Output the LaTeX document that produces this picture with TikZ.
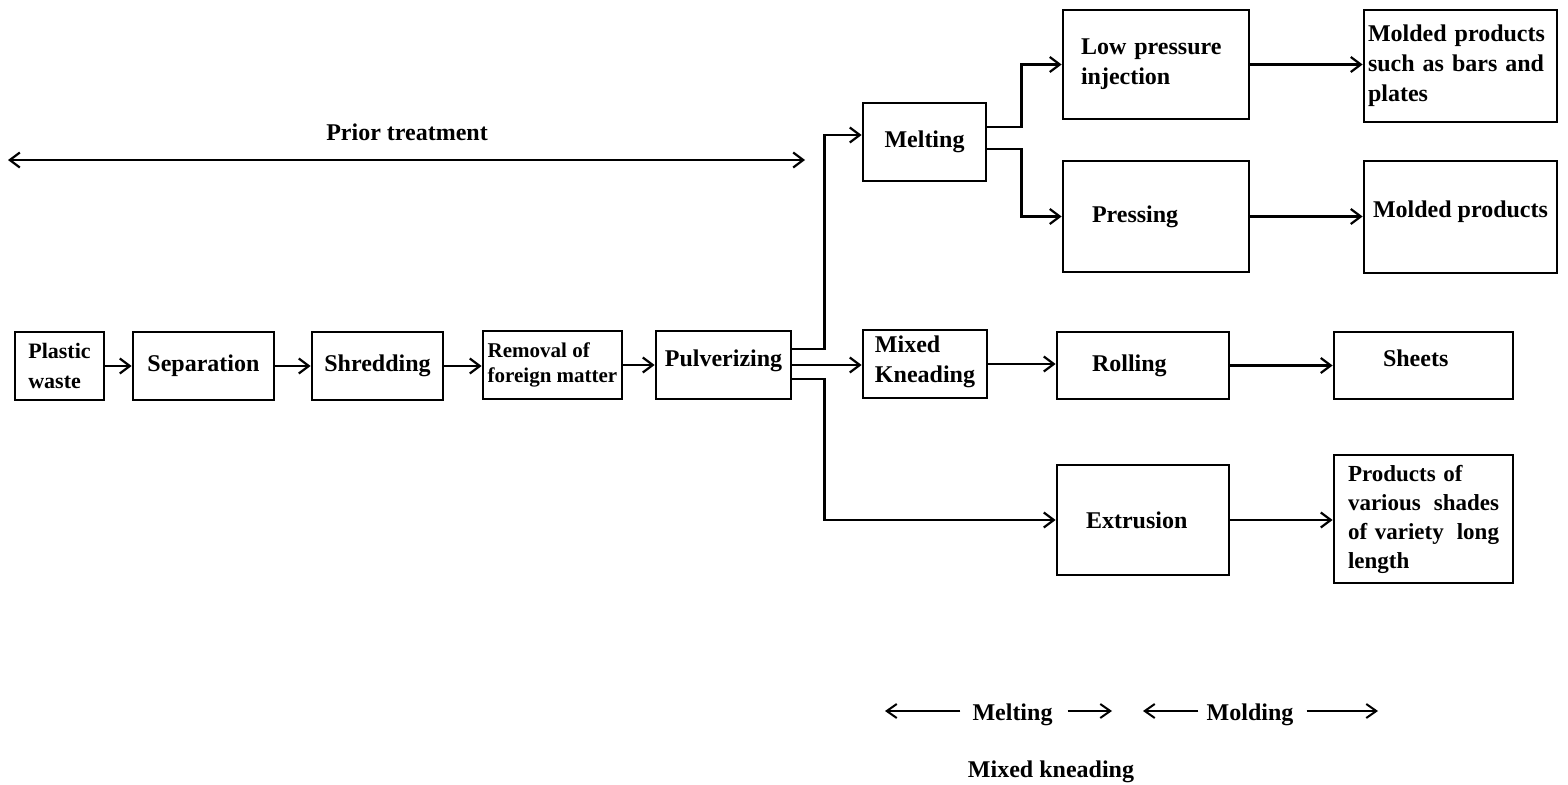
\documentclass[tikz,border=0pt]{standalone}
\usepackage{fontspec}
\setmainfont{Liberation Serif}
\usetikzlibrary{arrows.meta}
\begin{document}
\begin{tikzpicture}[x=1pt,y=-1pt,
  box/.style={draw, line width=2.8pt, inner ysep=0pt, inner xsep=0pt, align=left,
    font=\bfseries\fontsize{24}{30}\selectfont},
  lbl/.style={inner sep=0pt, font=\bfseries\fontsize{24}{30}\selectfont},
  conn/.style={line width=2.8pt, -{Straight Barb[length=10pt,width=15pt,line width=2.2pt]}},
  dbl/.style={line width=2.8pt, {Straight Barb[length=10pt,width=15pt,line width=2.2pt]}-{Straight Barb[length=10pt,width=15pt,line width=2.2pt]}},
  span/.style={line width=2pt, -{Straight Barb[length=10pt,width=14pt,line width=2pt]}}]
\useasboundingbox (0,0) rectangle (1568,784);

% main chain
\node[box, minimum width=89pt, minimum height=68pt, font=\bfseries\fontsize{22}{30}\selectfont] (pw) at (59.5,366) {Plastic\\waste};
\node[box, minimum width=141pt, minimum height=68pt] (sep) at (203.5,366) {Separation};
\node[box, minimum width=131pt, minimum height=68pt] (shr) at (377.5,366) {Shredding};
\node[box, minimum width=139pt, minimum height=68pt, font=\bfseries\fontsize{21}{25}\selectfont] (rem) at (552.5,365) {Removal of\\foreign matter};
\node[box, minimum width=135pt, minimum height=68pt, text depth=14.5pt] (pul) at (723.5,365) {Pulverizing};

% melting / kneading
\node[box, minimum width=123pt, minimum height=78pt] (mel) at (924.5,142) {Melting};
\node[box, minimum width=124pt, minimum height=68pt, text depth=10pt] (mix) at (925,364) {Mixed\\Kneading};

% molding
\node[box, minimum width=186pt, minimum height=109pt, inner xsep=18pt, text width=150pt] (lpi) at (1156,64.5) {Low pressure\\injection};
\node[box, minimum width=186pt, minimum height=111pt, inner xsep=29pt, text width=128pt] (prs) at (1156,216.5) {Pressing};
\node[box, minimum width=172pt, minimum height=67pt, inner xsep=35pt, text width=102pt] (rol) at (1143,365.5) {Rolling};
\node[box, minimum width=172pt, minimum height=110pt, inner xsep=29pt, text width=114pt] (ext) at (1143,520) {Extrusion};

% products
\node[box, minimum width=193pt, minimum height=112pt, inner xsep=4pt, text width=185pt] (mps) at (1460.5,66) {Molded products\\such as bars and\\plates};
\node[box, minimum width=193pt, minimum height=112pt, align=center, text depth=16.5pt] (mp) at (1460.5,217) {Molded products};
\node[box, minimum width=179pt, minimum height=67pt, inner xsep=49pt, text width=81pt, text depth=15.5pt] (sht) at (1423.5,365.5) {Sheets};
\node[box, minimum width=179pt, minimum height=128pt, inner xsep=14pt, text width=151pt, font=\bfseries\fontsize{23}{29}\selectfont] (pvs) at (1423.5,519) {Products of\\various\hfill shades\\of variety\hfill long\\length};

% connectors of the main chain
\draw[conn] (pw.east) -- (pw.east -| sep.west);
\draw[conn] (sep.east) -- (sep.east -| shr.west);
\draw[conn] (shr.east) -- (shr.east -| rem.west);
\draw[conn] (rem.east) -- (rem.east -| pul.west);

% branching from pulverizing
\draw[conn] ([yshift=16pt]pul.east) -- ++(32,0) |- ([yshift=7pt]mel.west);
\draw[conn] (pul.east) -- (pul.east -| mix.west);
\draw[conn] ([yshift=-14pt]pul.east) -- ++(32,0) |- (ext.west);

% branching from melting
\draw[conn] ([yshift=15pt]mel.east) -- ++(34,0) |- (lpi.west);
\draw[conn] ([yshift=-7pt]mel.east) -- ++(34,0) |- (prs.west);

% kneading to rolling
\draw[conn] (mix.east) -- (mix.east -| rol.west);

% molding to products
\draw[conn] (lpi.east) -- (lpi.east -| mps.west);
\draw[conn] (prs.east) -- (prs.east -| mp.west);
\draw[conn] (rol.east) -- (rol.east -| sht.west);
\draw[conn] (ext.east) -- (ext.east -| pvs.west);

% prior treatment span
\node[lbl, anchor=base] (pt) at (407,140) {Prior treatment};
\coordinate (ptl) at (8,160);
\coordinate (ptr) at (805,160);
\draw[dbl] (ptl) -- (ptr);

% bottom legend
\node[lbl, anchor=base] (bmel) at (1012.5,720) {Melting};
\node[lbl, anchor=base] (bmol) at (1250,720) {Molding};
\node[lbl, anchor=base] (bmix) at (1051,777) {Mixed kneading};
\coordinate (m1) at (885,711);
\coordinate (m2) at (1112,711);
\coordinate (o1) at (1143,711);
\coordinate (o2) at (1378,711);
\draw[span] ([xshift=-12pt]bmel.west |- m1) -- (m1);
\draw[span] ([xshift=15pt]bmel.east |- m2) -- (m2);
\draw[span] ([xshift=-8pt]bmol.west |- o1) -- (o1);
\draw[span] ([xshift=13pt]bmol.east |- o2) -- (o2);
\end{tikzpicture}
\end{document}
